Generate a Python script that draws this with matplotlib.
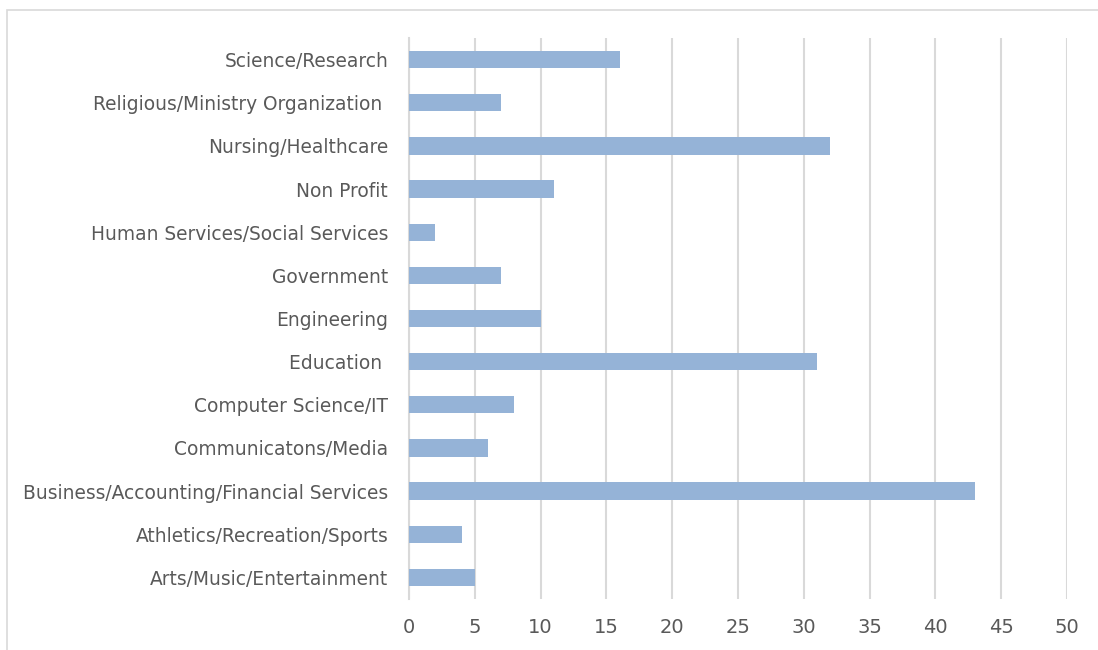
import matplotlib
matplotlib.use("Agg")
import matplotlib.pyplot as plt
from matplotlib.patches import Rectangle

categories = [
    "Arts/Music/Entertainment",
    "Athletics/Recreation/Sports",
    "Business/Accounting/Financial Services",
    "Communicatons/Media",
    "Computer Science/IT",
    "Education ",
    "Engineering",
    "Government",
    "Human Services/Social Services",
    "Non Profit",
    "Nursing/Healthcare",
    "Religious/Ministry Organization ",
    "Science/Research",
]
counts = [5, 4, 43, 6, 8, 31, 10, 7, 2, 11, 32, 7, 16]
xticks = list(range(0, 51, 5))

text_color = "#595959"
grid_color = "#D9D9D9"

fig = plt.figure(figsize=(10.98, 6.5), dpi=100)
ax = fig.add_axes([0.3725, 0.0785, 0.5993, 0.863])

# chart frame
fig.patches.append(Rectangle((7 / 1098, -0.01), 1.1, 1 - 10 / 650 + 0.01,
                             transform=fig.transFigure, fill=False,
                             edgecolor=grid_color, linewidth=1.2))

ax.barh(range(len(categories)), counts, height=0.4, color="#95B3D7", zorder=3)
ax.set_xlim(0, 50)
ax.set_ylim(-0.5, len(categories) - 0.5)
ax.set_xticks(xticks)
ax.set_yticks(range(len(categories)))
ax.set_yticklabels(categories)
ax.grid(axis="x", color=grid_color, linewidth=1.5, zorder=0)
for s in ["top", "right", "bottom"]:
    ax.spines[s].set_visible(False)
ax.spines["left"].set_color(grid_color)
ax.spines["left"].set_linewidth(1.5)
ax.tick_params(axis="both", length=0, labelcolor=text_color)
ax.tick_params(axis="y", pad=15, labelsize=13.4)
ax.tick_params(axis="x", pad=14, labelsize=14)

fig.savefig("out.png", dpi=100)
